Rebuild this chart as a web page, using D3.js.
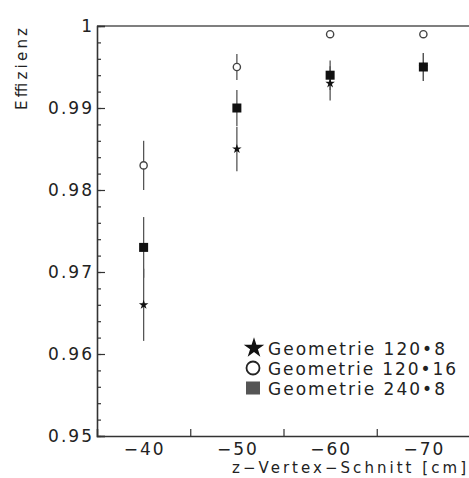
<!DOCTYPE html>
<html>
<head>
<meta charset="utf-8">
<script src="https://cdn.jsdelivr.net/npm/d3@7"></script>
<style>
  html, body { margin: 0; padding: 0; background: #fff; }
  svg { display: block; }
  text { font-family: "DejaVu Sans", "Liberation Sans", Arial, sans-serif; fill: #222; }
</style>
</head>
<body>
<svg id="chart" width="469" height="478"></svg>
<script>
// z-vertex cut values (bin centres) and their labels
const cuts = [-40, -50, -60, -70];
const cutLabels = ["\u221240", "\u221250", "\u221260", "\u221270"];

// efficiency per geometry with statistical errors
const eff120x8  = [0.966, 0.985, 0.993, 0.995];
const err120x8  = [0.0044, 0.0027, 0.0021, 0.0017];
const eff120x16 = [0.983, 0.995, 0.999, 0.999];
const err120x16 = [0.0030, 0.0016, 0.0004, 0.0004];
const eff240x8  = [0.973, 0.990, 0.994, 0.995];
const err240x8  = [0.0037, 0.0022, 0.0018, 0.0017];

const yMajor = [0.95, 0.96, 0.97, 0.98, 0.99, 1.0];
const yLabels = ["0.95", "0.96", "0.97", "0.98", "0.99", "1"];
const legendNames = ["Geometrie 120\u20228", "Geometrie 120\u202216", "Geometrie 240\u20228"];

const svg = d3.select("#chart");
const plotLeft = 97, plotRight = 470, plotTop = 26, plotBottom = 436;

const x = d3.scaleLinear().domain([-35, -75]).range([plotLeft, plotRight]);
const y = d3.scaleLinear().domain([0.95, 1.0]).range([plotBottom, plotTop]);

const axisColor = "#333";
const fontFamily = "DejaVu Sans, Liberation Sans, Arial, sans-serif";

// frame
svg.append("line").attr("x1", plotLeft).attr("x2", plotRight).attr("y1", plotTop).attr("y2", plotTop)
  .attr("stroke", "#555").attr("stroke-width", 1.6);

// y axis: minor ticks, then major ticks with labels
const yMinorTicks = d3.range(0, 26).map(i => 0.95 + i * 0.002);
svg.append("g").attr("transform", `translate(${plotLeft},0)`)
  .call(d3.axisLeft(y).tickValues(yMinorTicks).tickSize(-4).tickFormat(""))
  .call(g => g.select(".domain").remove())
  .call(g => g.selectAll("line").attr("stroke", axisColor).attr("stroke-width", 1.2));

const yAxis = svg.append("g").attr("transform", `translate(${plotLeft},0)`)
  .call(d3.axisLeft(y).tickValues(yMajor).tickSize(-8).tickPadding(5)
    .tickFormat((d, i) => yLabels[i]));
yAxis.select(".domain").attr("stroke", axisColor).attr("stroke-width", 1.6);
yAxis.selectAll("line").attr("stroke", axisColor).attr("stroke-width", 1.2);
yAxis.selectAll("text")
  .attr("font-size", 17).attr("fill", "#222").attr("font-family", fontFamily)
  .each(function (d, i) {
    if (yLabels[i].length > 1) d3.select(this).attr("textLength", 44).attr("lengthAdjust", "spacing");
  });

// x axis: bin edges as ticks, cut values as labels at bin centres
const xAxis = svg.append("g").attr("transform", `translate(0,${plotBottom})`)
  .call(d3.axisBottom(x).tickValues([-45, -55, -65]).tickSize(-7).tickFormat(""));
xAxis.select(".domain").attr("stroke", axisColor).attr("stroke-width", 1.6);
xAxis.selectAll("line").attr("stroke", axisColor).attr("stroke-width", 1.2);

svg.append("g").selectAll("text").data(cuts).join("text")
  .attr("x", d => x(d)).attr("y", 455)
  .attr("text-anchor", "middle").attr("font-size", 17)
  .attr("textLength", 40).attr("lengthAdjust", "spacing")
  .text((d, i) => cutLabels[i]);

// axis titles
svg.append("text")
  .attr("x", 466).attr("y", 473).attr("text-anchor", "end").attr("font-size", 15)
  .attr("textLength", 234).attr("lengthAdjust", "spacing")
  .text("z\u2212Vertex\u2212Schnitt [cm]");

svg.append("text")
  .attr("transform", "translate(27,28) rotate(-90)")
  .attr("text-anchor", "end").attr("font-size", 15)
  .attr("textLength", 82).attr("lengthAdjust", "spacing")
  .text("Effizienz");

// error bars
const series = [
  { vals: eff120x8, errs: err120x8 },
  { vals: eff240x8, errs: err240x8 },
  { vals: eff120x16, errs: err120x16 }
];
const bars = svg.append("g");
series.forEach(s => {
  bars.selectAll(null).data(cuts).join("line")
    .attr("x1", d => x(d)).attr("x2", d => x(d))
    .attr("y1", (d, i) => y(s.vals[i] + s.errs[i]))
    .attr("y2", (d, i) => y(s.vals[i] - s.errs[i]))
    .attr("stroke", "#555").attr("stroke-width", 1.3);
});

// markers
const star = d3.symbol().type(d3.symbolStar);
svg.append("g").selectAll("path").data(cuts).join("path")
  .attr("transform", (d, i) => `translate(${x(d)},${y(eff120x8[i])})`)
  .attr("d", star.size(28)()).attr("fill", "#111");

svg.append("g").selectAll("rect").data(cuts).join("rect")
  .attr("x", d => x(d) - 4.5).attr("y", (d, i) => y(eff240x8[i]) - 4.5)
  .attr("width", 9).attr("height", 9).attr("fill", "#111");

svg.append("g").selectAll("circle").data(cuts).join("circle")
  .attr("cx", d => x(d)).attr("cy", (d, i) => y(eff120x16[i]))
  .attr("r", 3.6).attr("fill", "#fff").attr("stroke", "#444").attr("stroke-width", 1.4);

// legend
const legend = svg.append("g");
const rowY = [348, 368, 388];
legend.append("path").attr("transform", `translate(254,${rowY[0]})`)
  .attr("d", star.size(130)()).attr("fill", "#111");
legend.append("circle").attr("cx", 253).attr("cy", rowY[1]).attr("r", 6.5)
  .attr("fill", "#fff").attr("stroke", "#222").attr("stroke-width", 1.8);
legend.append("rect").attr("x", 246).attr("y", rowY[2] - 6.5).attr("width", 14).attr("height", 13)
  .attr("fill", "#555");
legend.selectAll("text").data(legendNames).join("text")
  .attr("x", 268).attr("y", (d, i) => rowY[i] + 6.5)
  .attr("font-size", 17)
  .attr("textLength", (d, i) => i === 1 ? 188 : 177).attr("lengthAdjust", "spacing")
  .text(d => d);
</script>
</body>
</html>
